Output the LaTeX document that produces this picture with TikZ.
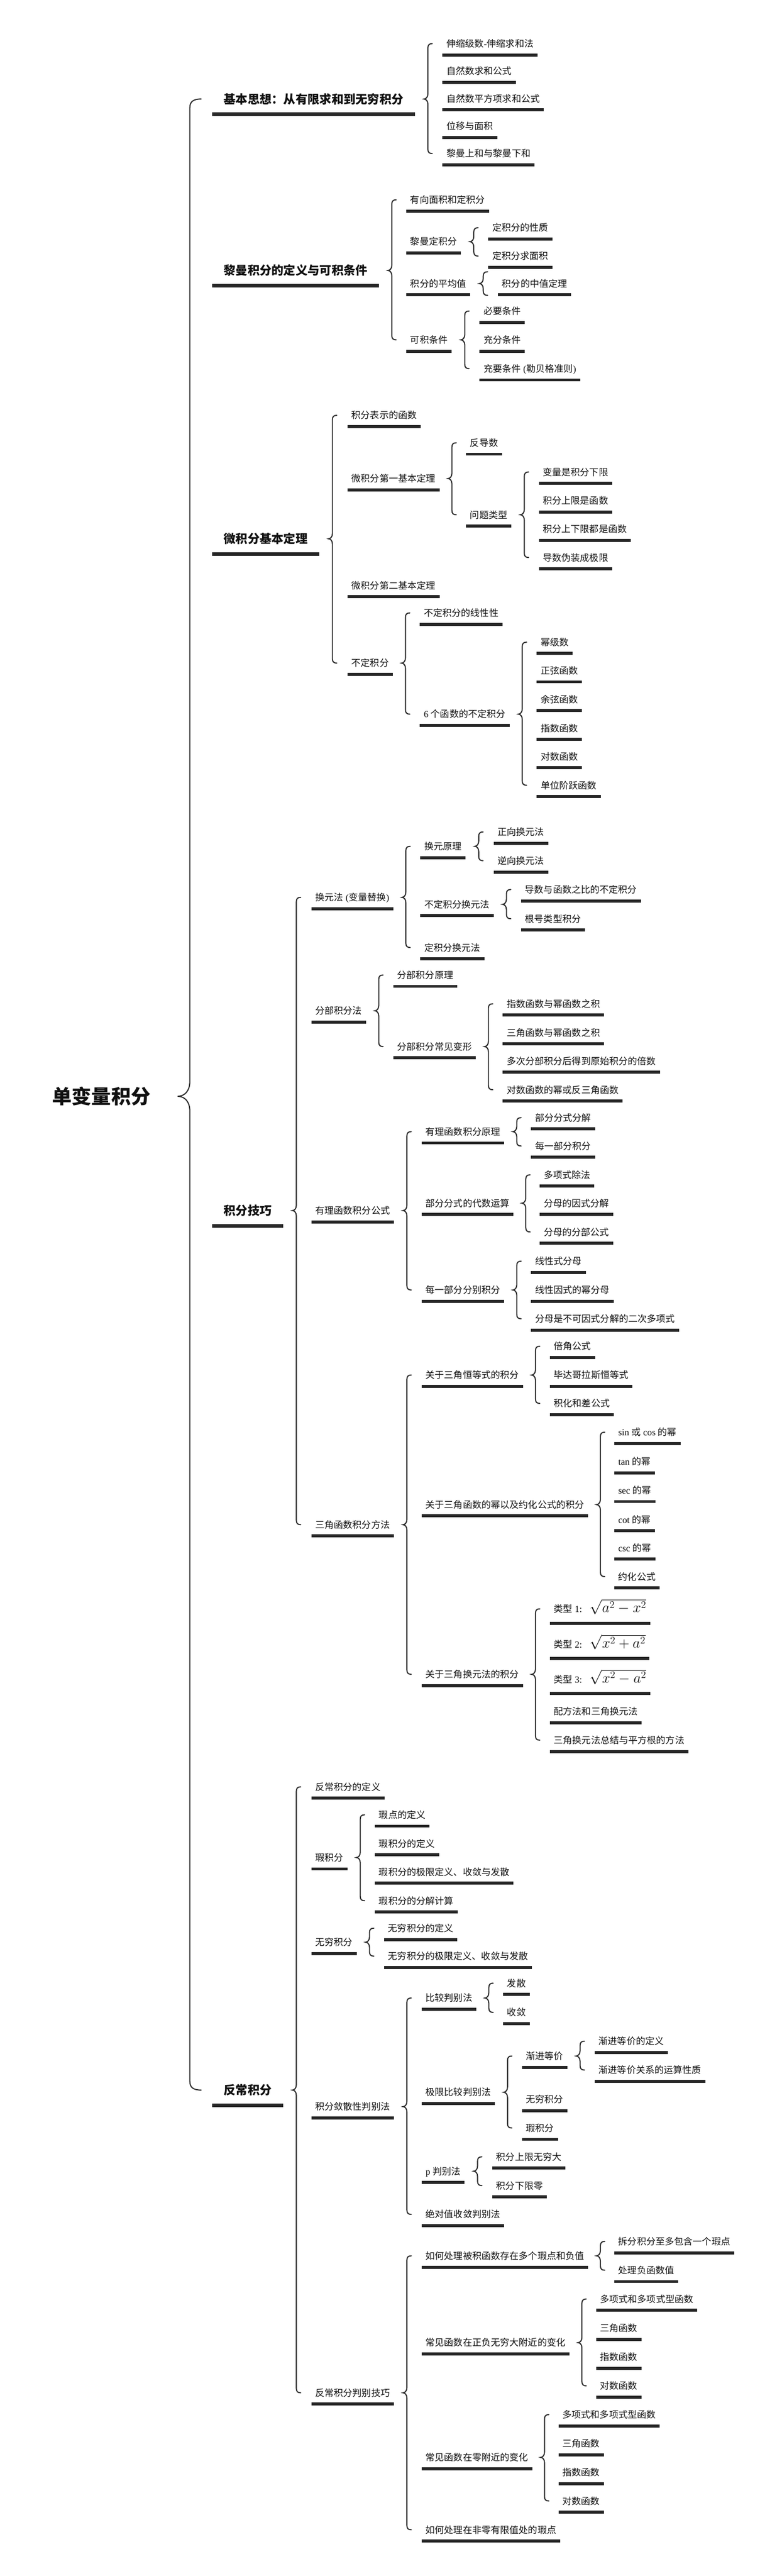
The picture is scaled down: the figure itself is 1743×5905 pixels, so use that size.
\documentclass[tikz,border=0pt]{standalone}
\usepackage{graphicx}
\usepackage[no-math]{fontspec}
\setmainfont{Noto Sans CJK SC}
\newfontfamily\lat{Liberation Serif}
\usetikzlibrary{calc}
\definecolor{ulc}{HTML}{262626}
\definecolor{brc}{HTML}{2B2B2B}
\definecolor{txc}{HTML}{111111}
\tikzset{
 t2/.style={anchor=west, font=\fontsize{21.4}{25}\selectfont, text=txc, inner xsep=9pt, inner ysep=0pt, text height=18.8pt, text depth=2.6pt},
 t1/.style={t2, font=\fontsize{27.5}{32}\selectfont\bfseries, inner xsep=26pt, text height=24.2pt, text depth=3.3pt},
 t0/.style={t2, font=\fontsize{45}{52}\selectfont\bfseries, inner xsep=0pt, text height=39.6pt, text depth=5.4pt},
 brl/.style={draw=brc, line width=2.5pt, line cap=round},
}
\newcommand\mmleaf[4]{\node[t2] (#1) at (#2,#3) {#4};
  \fill[ulc] ([yshift=-22.5pt]#1.west) rectangle ([yshift=-29.5pt]#1.east);}
\newcommand\mmmath[4]{\node[t2] (#1) at (#2,#3) {#4};
  \fill[ulc] ([yshift=-29.5pt]#1.west) rectangle ([yshift=-36.5pt]#1.east);}
\newcommand\mmone[4]{\node[t1] (#1) at (#2,#3) {#4};
  \fill[ulc] ([yshift=-31pt]#1.west) rectangle ([yshift=-39pt]#1.east);}
\newcommand\mmsq[1]{\scalebox{1.62}{$\sqrt{#1}$}}
\newcommand\mmbrace[3]{%
 \draw[brl] let \p1=(#1.east), \p2=(#2.west), \p3=(#3.west), \p4=($(#1.east)!0.5!(#2.west)$) in
   ({\x4+8pt},\y2) .. controls ({\x4+1pt},\y2) and ({\x4-2pt},{\y2-3pt}) .. ({\x4-2pt},{\y2-10pt})
   -- ({\x4-2pt},{\y1+12pt}) .. controls ({\x4-2pt},{\y1+4.5pt}) and ({\x4-6.5pt},\y1) .. ({\x4-11pt},\y1)
   .. controls ({\x4-6.5pt},\y1) and ({\x4-2pt},{\y1-4.5pt}) .. ({\x4-2pt},{\y1-12pt})
   -- ({\x4-2pt},{\y3+10pt}) .. controls ({\x4-2pt},{\y3+3pt}) and ({\x4+1pt},\y3) .. ({\x4+8pt},\y3);}
\newcommand\mmbraceone[2]{%
 \draw[brl] let \p1=(#1.east), \p2=(#2.west), \p4=($(#1.east)!0.5!(#2.west)$) in
   ({\x4+8pt},{\y2+27pt}) .. controls ({\x4+1pt},{\y2+27pt}) and ({\x4-2pt},{\y2+24pt}) .. ({\x4-2pt},{\y2+17pt})
   -- ({\x4-2pt},{\y1+12pt}) .. controls ({\x4-2pt},{\y1+4.5pt}) and ({\x4-6.5pt},\y1) .. ({\x4-11pt},\y1)
   .. controls ({\x4-6.5pt},\y1) and ({\x4-2pt},{\y1-4.5pt}) .. ({\x4-2pt},{\y1-12pt})
   -- ({\x4-2pt},{\y2-17pt}) .. controls ({\x4-2pt},{\y2-24pt}) and ({\x4+1pt},{\y2-27pt}) .. ({\x4+8pt},{\y2-27pt});}
\begin{document}
\begin{tikzpicture}[x=1pt,y=-1pt]
\fill[white] (0,0) rectangle (1743,5905);
\useasboundingbox (0,0) rectangle (1743,5905);

\node[t0] (R) at (120,2513) {单变量积分};

% ---------- A
\mmone{A}{487}{227}{基本思想：从有限求和到无穷积分}
\mmleaf{A1}{1015}{100}{伸缩级数{\lat -}伸缩求和法}
\mmleaf{A2}{1015}{163}{自然数求和公式}
\mmleaf{A3}{1015}{226}{自然数平方项求和公式}
\mmleaf{A4}{1015}{289}{位移与面积}
\mmleaf{A5}{1015}{352}{黎曼上和与黎曼下和}
\mmbrace{A}{A1}{A5}

% ---------- B
\mmone{B}{487}{620}{黎曼积分的定义与可积条件}
\mmleaf{B1}{932}{458}{有向面积和定积分}
\mmleaf{B2}{932}{554}{黎曼定积分}
\mmleaf{B21}{1120}{522}{定积分的性质}
\mmleaf{B22}{1120}{587}{定积分求面积}
\mmleaf{B3}{932}{650}{积分的平均值}
\mmleaf{B31}{1142}{650}{积分的中值定理}
\mmleaf{B4}{932}{779}{可积条件}
\mmleaf{B41}{1100}{713}{必要条件}
\mmleaf{B42}{1100}{779}{充分条件}
\mmleaf{B43}{1100}{845}{充要条件{\lat\ (}勒贝格准则{\lat )}}
\mmbrace{B}{B1}{B4}
\mmbrace{B2}{B21}{B22}
\mmbraceone{B3}{B31}
\mmbrace{B4}{B41}{B43}

% ---------- C
\mmone{C}{487}{1235}{微积分基本定理}
\mmleaf{C1}{797}{952}{积分表示的函数}
\mmleaf{C2}{797}{1097}{微积分第一基本定理}
\mmleaf{C21}{1069}{1015}{反导数}
\mmleaf{C22}{1069}{1180}{问题类型}
\mmleaf{C221}{1236}{1082}{变量是积分下限}
\mmleaf{C222}{1236}{1148}{积分上限是函数}
\mmleaf{C223}{1236}{1213}{积分上下限都是函数}
\mmleaf{C224}{1236}{1278}{导数伪装成极限}
\mmleaf{C3}{797}{1342}{微积分第二基本定理}
\mmleaf{C4}{797}{1520}{不定积分}
\mmleaf{C41}{963}{1405}{不定积分的线性性}
\mmleaf{C42}{963}{1637}{{\lat 6 }个函数的不定积分}
\mmleaf{C421}{1231}{1472}{幂级数}
\mmleaf{C422}{1231}{1537}{正弦函数}
\mmleaf{C423}{1231}{1603}{余弦函数}
\mmleaf{C424}{1231}{1669}{指数函数}
\mmleaf{C425}{1231}{1734}{对数函数}
\mmleaf{C426}{1231}{1800}{单位阶跃函数}
\mmbrace{C}{C1}{C4}
\mmbrace{C2}{C21}{C22}
\mmbrace{C22}{C221}{C224}
\mmbrace{C4}{C41}{C42}
\mmbrace{C42}{C421}{C426}

% ---------- D
\mmone{D}{487}{2775}{积分技巧}
\mmleaf{D1}{714}{2057}{换元法{\lat\ (}变量替换{\lat )}}
\mmleaf{D11}{964}{1940}{换元原理}
\mmleaf{D111}{1132}{1907}{正向换元法}
\mmleaf{D112}{1132}{1973}{逆向换元法}
\mmleaf{D12}{964}{2073}{不定积分换元法}
\mmleaf{D121}{1195}{2039}{导数与函数之比的不定积分}
\mmleaf{D122}{1195}{2106}{根号类型积分}
\mmleaf{D13}{964}{2172}{定积分换元法}
\mmleaf{D2}{714}{2317}{分部积分法}
\mmleaf{D21}{902}{2235}{分部积分原理}
\mmleaf{D22}{902}{2399}{分部积分常见变形}
\mmleaf{D221}{1153}{2301}{指数函数与幂函数之积}
\mmleaf{D222}{1153}{2367}{三角函数与幂函数之积}
\mmleaf{D223}{1153}{2432}{多次分部积分后得到原始积分的倍数}
\mmleaf{D224}{1153}{2498}{对数函数的幂或反三角函数}
\mmleaf{D3}{714}{2775}{有理函数积分公式}
\mmleaf{D31}{967}{2594}{有理函数积分原理}
\mmleaf{D311}{1218}{2562}{部分分式分解}
\mmleaf{D312}{1218}{2627}{每一部分积分}
\mmleaf{D32}{967}{2758}{部分分式的代数运算}
\mmleaf{D321}{1238}{2693}{多项式除法}
\mmleaf{D322}{1238}{2758}{分母的因式分解}
\mmleaf{D323}{1238}{2824}{分母的分部公式}
\mmleaf{D33}{967}{2957}{每一部分分别积分}
\mmleaf{D331}{1218}{2891}{线性式分母}
\mmleaf{D332}{1218}{2957}{线性因式的幂分母}
\mmleaf{D333}{1218}{3023}{分母是不可因式分解的二次多项式}
\mmleaf{D4}{714}{3495}{三角函数积分方法}
\mmleaf{D41}{967}{3152}{关于三角恒等式的积分}
\mmleaf{D411}{1261}{3086}{倍角公式}
\mmleaf{D412}{1261}{3152}{毕达哥拉斯恒等式}
\mmleaf{D413}{1261}{3217}{积化和差公式}
\mmleaf{D42}{967}{3449}{关于三角函数的幂以及约化公式的积分}
\mmleaf{D421}{1409}{3283}{{\lat sin }或{\lat\ cos }的幂}
\mmleaf{D422}{1409}{3350}{{\lat tan }的幂}
\mmleaf{D423}{1409}{3416}{{\lat sec }的幂}
\mmleaf{D424}{1409}{3483}{{\lat cot }的幂}
\mmleaf{D425}{1409}{3548}{{\lat csc }的幂}
\mmleaf{D426}{1409}{3614}{约化公式}
\mmleaf{D43}{967}{3838}{关于三角换元法的积分}
\mmmath{D431}{1261}{3688}{类型{\lat\ 1:}\hspace{18pt}\mmsq{a^2-x^2}}
\mmmath{D432}{1261}{3769}{类型{\lat\ 2:}\hspace{18pt}\mmsq{x^2+a^2}}
\mmmath{D433}{1261}{3849}{类型{\lat\ 3:}\hspace{18pt}\mmsq{x^2-a^2}}
\mmleaf{D434}{1261}{3923}{配方法和三角换元法}
\mmleaf{D435}{1261}{3989}{三角换元法总结与平方根的方法}
\mmbrace{D}{D1}{D4}
\mmbrace{D1}{D11}{D13}
\mmbrace{D11}{D111}{D112}
\mmbrace{D12}{D121}{D122}
\mmbrace{D2}{D21}{D22}
\mmbrace{D22}{D221}{D224}
\mmbrace{D3}{D31}{D33}
\mmbrace{D31}{D311}{D312}
\mmbrace{D32}{D321}{D323}
\mmbrace{D33}{D331}{D333}
\mmbrace{D4}{D41}{D43}
\mmbrace{D41}{D411}{D413}
\mmbrace{D42}{D421}{D426}
\mmbrace{D43}{D431}{D435}

% ---------- E
\mmone{E}{487}{4791}{反常积分}
\mmleaf{E1}{714}{4096}{反常积分的定义}
\mmleaf{E2}{714}{4258}{瑕积分}
\mmleaf{E21}{860}{4160}{瑕点的定义}
\mmleaf{E22}{860}{4226}{瑕积分的定义}
\mmleaf{E23}{860}{4291}{瑕积分的极限定义、收敛与发散}
\mmleaf{E24}{860}{4357}{瑕积分的分解计算}
\mmleaf{E3}{714}{4452}{无穷积分}
\mmleaf{E31}{881}{4420}{无穷积分的定义}
\mmleaf{E32}{881}{4484}{无穷积分的极限定义、收敛与发散}
\mmleaf{E4}{714}{4829}{积分敛散性判别法}
\mmleaf{E41}{967}{4580}{比较判别法}
\mmleaf{E411}{1154}{4546}{发散}
\mmleaf{E412}{1154}{4613}{收敛}
\mmleaf{E42}{967}{4796}{极限比较判别法}
\mmleaf{E421}{1197}{4713}{渐进等价}
\mmleaf{E4211}{1364}{4679}{渐进等价的定义}
\mmleaf{E4212}{1364}{4745}{渐进等价关系的运算性质}
\mmleaf{E422}{1197}{4812}{无穷积分}
\mmleaf{E423}{1197}{4878}{瑕积分}
\mmleaf{E43}{967}{4977}{{\lat p }判别法}
\mmleaf{E431}{1129}{4944}{积分上限无穷大}
\mmleaf{E432}{1129}{5010}{积分下限零}
\mmleaf{E44}{967}{5076}{绝对值收敛判别法}
\mmleaf{E5}{714}{5485}{反常积分判别技巧}
\mmleaf{E51}{967}{5171}{如何处理被积函数存在多个瑕点和负值}
\mmleaf{E511}{1409}{5138}{拆分积分至多包含一个瑕点}
\mmleaf{E512}{1409}{5204}{处理负函数值}
\mmleaf{E52}{967}{5370}{常见函数在正负无穷大附近的变化}
\mmleaf{E521}{1367}{5270}{多项式和多项式型函数}
\mmleaf{E522}{1367}{5337}{三角函数}
\mmleaf{E523}{1367}{5403}{指数函数}
\mmleaf{E524}{1367}{5469}{对数函数}
\mmleaf{E53}{967}{5633}{常见函数在零附近的变化}
\mmleaf{E531}{1281}{5535}{多项式和多项式型函数}
\mmleaf{E532}{1281}{5601}{三角函数}
\mmleaf{E533}{1281}{5667}{指数函数}
\mmleaf{E534}{1281}{5733}{对数函数}
\mmleaf{E54}{967}{5799}{如何处理在非零有限值处的瑕点}
\mmbrace{E}{E1}{E5}
\mmbrace{E2}{E21}{E24}
\mmbrace{E3}{E31}{E32}
\mmbrace{E4}{E41}{E44}
\mmbrace{E41}{E411}{E412}
\mmbrace{E42}{E421}{E423}
\mmbrace{E421}{E4211}{E4212}
\mmbrace{E43}{E431}{E432}
\mmbrace{E5}{E51}{E54}
\mmbrace{E51}{E511}{E512}
\mmbrace{E52}{E521}{E524}
\mmbrace{E53}{E531}{E534}

% ---------- root brace
\draw[brl] let \p1=(R.east), \p2=(A.west), \p3=(E.west), \p4=([xshift=90pt]R.east) in
  ({\x4+26pt},\y2) .. controls ({\x4+8pt},\y2) and (\x4,{\y2-6pt}) .. (\x4,{\y2-20pt})
  -- (\x4,{\y1+34pt}) .. controls (\x4,{\y1+12pt}) and ({\x4-12pt},\y1) .. ({\x4-28pt},\y1)
  .. controls ({\x4-12pt},\y1) and (\x4,{\y1-12pt}) .. (\x4,{\y1-34pt})
  -- (\x4,{\y3+20pt}) .. controls (\x4,{\y3+6pt}) and ({\x4+8pt},\y3) .. ({\x4+26pt},\y3);
\end{tikzpicture}
\end{document}
